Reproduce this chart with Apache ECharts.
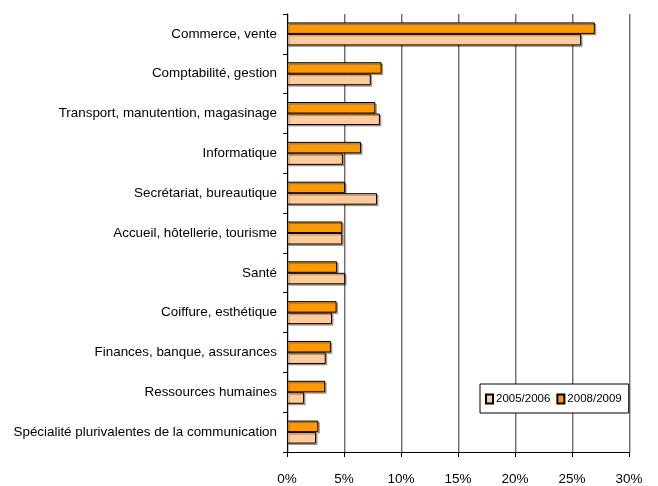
<!DOCTYPE html>
<html>
<head>
<meta charset="utf-8">
<script src="https://cdn.jsdelivr.net/npm/echarts@6/dist/echarts.min.js"></script>
<style>
html,body{margin:0;padding:0;background:#fff;}
#chart{width:658px;height:486px;}
</style>
</head>
<body>
<div id="chart"></div>
<script>
var categories = [
  "Commerce, vente",
  "Comptabilité, gestion",
  "Transport, manutention, magasinage",
  "Informatique",
  "Secrétariat, bureautique",
  "Accueil, hôtellerie, tourisme",
  "Santé",
  "Coiffure, esthétique",
  "Finances, banque, assurances",
  "Ressources humaines",
  "Spécialité plurivalentes de la communication"
];
var series2005 = [25.8, 7.35, 8.15, 4.9, 7.9, 4.85, 5.1, 3.95, 3.4, 1.5, 2.55];
var series2008 = [27.0, 8.3, 7.75, 6.5, 5.1, 4.85, 4.4, 4.35, 3.85, 3.35, 2.75];
var seriesNames = ["2005/2006", "2008/2009"];
var xTicks = [0, 5, 10, 15, 20, 25, 30];

var font = "'Liberation Sans', Arial, sans-serif";
var chart = echarts.init(document.getElementById('chart'), null, {renderer: 'canvas'});
var barStyle = function (c) {
  return {
    color: c, borderColor: '#000', borderWidth: 1,
    shadowColor: 'rgba(0,0,0,0.3)', shadowOffsetX: 1.5, shadowOffsetY: 1.5, shadowBlur: 0
  };
};
chart.setOption({
  animation: false,
  backgroundColor: '#fff',
  grid: {left: 287, right: 29, top: 14, bottom: 34, containLabel: false},
  legend: {
    data: [seriesNames[0], seriesNames[1]],
    orient: 'horizontal',
    left: 480, top: 384, width: 148, height: 30,
    padding: [9, 7, 8, 5],
    backgroundColor: '#fff', borderColor: '#000', borderWidth: 1,
    itemWidth: 7, itemHeight: 9, itemGap: 6,
    textStyle: {fontFamily: font, fontSize: 11.5, color: '#000', padding: [0, 0, 0, -2]},
    icon: 'rect'
  },
  xAxis: {
    type: 'value', min: xTicks[0], max: xTicks[xTicks.length - 1], interval: 5,
    axisLine: {show: true, lineStyle: {color: '#000', width: 1}},
    axisTick: {show: true, length: 5, lineStyle: {color: '#000'}},
    axisLabel: {fontFamily: font, fontSize: 13.5, color: '#000', margin: 20,
      formatter: function (v) { return v + '%'; }},
    splitLine: {show: true, lineStyle: {color: '#6e6e6e', width: 1,
      shadowColor: 'rgba(0,0,0,0.25)', shadowOffsetX: 1}}
  },
  yAxis: {
    type: 'category', data: categories, inverse: true,
    axisLine: {show: true, lineStyle: {color: '#000', width: 1}},
    axisTick: {show: true, length: 4, lineStyle: {color: '#000'}},
    axisLabel: {fontFamily: font, fontSize: 13.4, color: '#000', margin: 10}
  },
  series: [
    {name: seriesNames[1], type: 'bar', data: series2008, barGap: '0%', barWidth: 11.5,
      itemStyle: barStyle('#FF9900')},
    {name: seriesNames[0], type: 'bar', data: series2005, barGap: '0%', barWidth: 11.5,
      itemStyle: barStyle('#FFCC99')}
  ]
});
</script>
</body>
</html>
